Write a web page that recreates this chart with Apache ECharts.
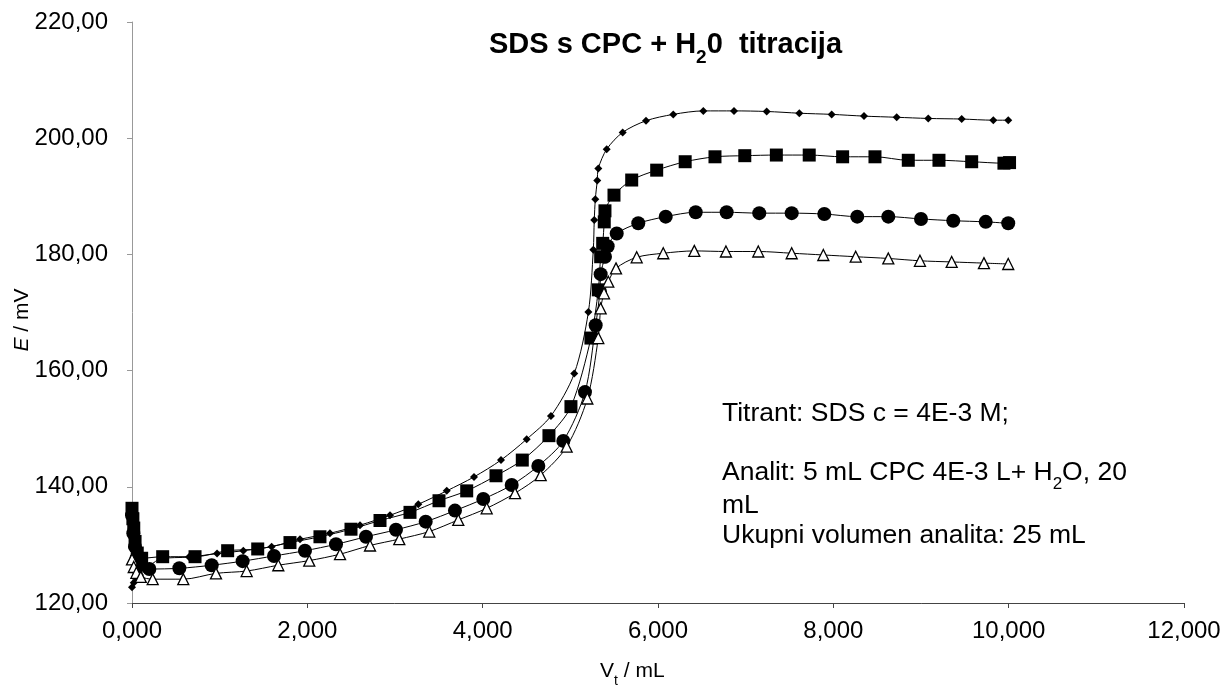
<!DOCTYPE html>
<html>
<head>
<meta charset="utf-8">
<script src="https://cdn.jsdelivr.net/npm/echarts@6/dist/echarts.min.js"></script>
<style>html,body{margin:0;padding:0;background:#fff;}#c{width:1226px;height:691px;}</style>
</head>
<body>
<div id="c"></div>
<script>
// ---- data (V in mL, E in mV) ----
const xDiamond = [0, 0.02, 0.05, 0.09, 0.33, 0.65, 0.97, 1.27, 1.593, 1.916, 2.258, 2.601, 2.943, 3.266, 3.590, 3.901, 4.209, 4.502, 4.779, 5.045, 5.206, 5.262, 5.273, 5.285, 5.307, 5.319, 5.415, 5.597, 5.863, 6.174, 6.517, 6.867, 7.240, 7.612, 7.981, 8.350, 8.723, 9.083, 9.464, 9.825, 9.995];
const yDiamond = [122.7, 123.5, 124.3, 124.8, 127.6, 127.9, 128.5, 129.0, 129.7, 130.96, 132.0, 133.4, 135.1, 137.0, 139.3, 141.7, 144.6, 148.2, 152.2, 159.5, 170.1, 180.8, 185.9, 189.5, 192.7, 194.8, 198.1, 201.0, 203.0, 204.1, 204.7, 204.7, 204.6, 204.3, 204.1, 203.8, 203.6, 203.4, 203.3, 203.1, 203.1];

const xSquare = [0, 0.01, 0.02, 0.035, 0.06, 0.11, 0.350, 0.719, 1.091, 1.434, 1.802, 2.144, 2.498, 2.829, 3.171, 3.502, 3.818, 4.152, 4.452, 4.756, 5.007, 5.235, 5.319, 5.346, 5.369, 5.387, 5.395, 5.498, 5.70, 5.985, 6.31, 6.65, 6.99, 7.35, 7.725, 8.106, 8.475, 8.855, 9.205, 9.578, 9.946, 10.01];
const ySquare = [136.3, 134.5, 132.9, 130.6, 128.6, 127.7, 127.97, 127.97, 129.0, 129.3, 130.4, 131.4, 132.7, 134.2, 135.6, 137.6, 139.3, 141.9, 144.6, 148.8, 153.8, 165.6, 173.9, 179.6, 181.9, 185.6, 187.5, 190.2, 192.8, 194.5, 195.95, 196.8, 196.99, 197.1, 197.1, 196.8, 196.8, 196.2, 196.2, 195.95, 195.7, 195.8];

const xCircle = [0, 0.015, 0.034, 0.054, 0.091, 0.198, 0.540, 0.909, 1.262, 1.62, 1.973, 2.327, 2.669, 3.011, 3.350, 3.684, 4.007, 4.331, 4.635, 4.920, 5.167, 5.289, 5.338, 5.346, 5.395, 5.426, 5.529, 5.775, 6.088, 6.430, 6.783, 7.155, 7.525, 7.897, 8.273, 8.627, 9.0, 9.368, 9.738, 9.995];
const yCircle = [135.1, 132.0, 129.7, 127.7, 126.5, 125.85, 125.97, 126.5, 127.2, 128.1, 129.0, 130.1, 131.4, 132.6, 134.0, 135.9, 137.9, 140.3, 143.6, 147.9, 156.3, 167.8, 173.6, 176.6, 179.6, 181.4, 183.6, 185.35, 186.5, 187.25, 187.25, 187.1, 187.1, 186.95, 186.5, 186.5, 186.1, 185.8, 185.6, 185.35];

const xTriangle = [0, 0.02, 0.05, 0.1, 0.236, 0.585, 0.958, 1.308, 1.669, 2.022, 2.373, 2.715, 3.049, 3.391, 3.722, 4.046, 4.369, 4.662, 4.958, 5.194, 5.319, 5.346, 5.384, 5.433, 5.521, 5.757, 6.06, 6.414, 6.775, 7.144, 7.525, 7.886, 8.255, 8.627, 8.988, 9.35, 9.718, 9.995];
const yTriangle = [127.5, 126.2, 125.2, 124.5, 124.1, 124.1, 125.1, 125.5, 126.5, 127.3, 128.4, 129.9, 131.0, 132.3, 134.3, 136.3, 138.9, 142.0, 146.9, 155.2, 165.6, 170.7, 173.3, 175.3, 177.6, 179.5, 180.2, 180.6, 180.5, 180.5, 180.2, 179.9, 179.6, 179.3, 178.9, 178.7, 178.5, 178.35];

const xTicks = {min: 0, max: 12, step: 2};
const yTicks = {min: 120, max: 220, step: 20};

const pairs = (xs, ys) => xs.map((x, i) => [x, ys[i]]);
const FONT = 'Liberation Sans, Arial, sans-serif';

const chart = echarts.init(document.getElementById('c'), null, {renderer: 'canvas'});
const lineStyle = {color: '#000', width: 1};
const txt = (size, extra) => Object.assign({fontSize: size, fontFamily: FONT, fill: '#000'}, extra || {});
chart.setOption({
  animation: false,
  backgroundColor: '#fff',
  grid: {left: 132, right: 42, top: 22, bottom: 88, containLabel: false},
  xAxis: {
    type: 'value', min: xTicks.min, max: xTicks.max, interval: xTicks.step,
    axisLine: {show: true, onZero: false, lineStyle: {color: '#444', width: 1}},
    axisTick: {show: true, inside: false, length: 5, lineStyle: {color: '#444'}},
    splitLine: {show: false},
    axisLabel: {margin: 16, color: '#000', fontSize: 24, fontFamily: FONT,
      formatter: v => v.toFixed(3).replace('.', ',')}
  },
  yAxis: {
    type: 'value', min: yTicks.min, max: yTicks.max, interval: yTicks.step,
    axisLine: {show: true, onZero: false, lineStyle: {color: '#999', width: 1}},
    axisTick: {show: true, inside: false, length: 5, lineStyle: {color: '#999'}},
    splitLine: {show: false},
    axisLabel: {margin: 24, color: '#000', fontSize: 24, fontFamily: FONT,
      formatter: v => v.toFixed(2).replace('.', ',')}
  },
  series: [
    {type: 'line', data: pairs(xDiamond, yDiamond), smooth: 0.3, symbol: 'diamond', symbolSize: 8,
      lineStyle: lineStyle, itemStyle: {color: '#000'}, z: 2},
    {type: 'line', data: pairs(xSquare, ySquare), smooth: 0.3, symbol: 'rect', symbolSize: 13,
      lineStyle: lineStyle, itemStyle: {color: '#000'}, z: 3},
    {type: 'line', data: pairs(xCircle, yCircle), smooth: 0.3, symbol: 'circle', symbolSize: 14,
      lineStyle: lineStyle, itemStyle: {color: '#000'}, z: 4},
    {type: 'line', data: pairs(xTriangle, yTriangle), smooth: 0.3, symbol: 'triangle', symbolSize: 11,
      lineStyle: lineStyle, itemStyle: {color: '#fff', borderColor: '#000', borderWidth: 1.3}, z: 5}
  ],
  graphic: [
    {type: 'text', left: 489, top: 30, style: {
      text: '{b|SDS s CPC + H}{s|2}{b|0  titracija}', fontFamily: FONT,
      rich: {b: txt(29, {fontWeight: 'bold', verticalAlign: 'bottom', lineHeight: 34}),
             s: txt(19, {fontWeight: 'bold', verticalAlign: 'bottom', lineHeight: 34, padding: [0, 0, -8, 0]})}}},
    {type: 'text', left: 722, top: 400, style: txt(26.5, {text: 'Titrant: SDS c = 4E-3 M;'})},
    {type: 'text', left: 722, top: 459, style: {
      text: '{n|Analit: 5 mL CPC 4E-3 L+ H}{s|2}{n|O, 20}', fontFamily: FONT,
      rich: {n: txt(26.5, {verticalAlign: 'bottom', lineHeight: 30}),
             s: txt(17, {verticalAlign: 'bottom', lineHeight: 30, padding: [0, 0, -7, 0]})}}},
    {type: 'text', left: 722, top: 492, style: txt(26.5, {text: 'mL'})},
    {type: 'text', left: 722, top: 522, style: txt(26.5, {text: 'Ukupni volumen analita: 25 mL'})},
    {type: 'text', left: 600, top: 661, style: {
      text: '{n|V}{s|t}{n| / mL}', fontFamily: FONT,
      rich: {n: txt(21, {verticalAlign: 'bottom', lineHeight: 26}),
             s: txt(14, {verticalAlign: 'bottom', lineHeight: 26, padding: [0, 0, -6, 0]})}}},
    {type: 'text', x: 22, y: 320, rotation: Math.PI / 2, style: {
      text: '{i|E}{n| / mV}', fontFamily: FONT, align: 'center', verticalAlign: 'middle',
      rich: {i: txt(21, {fontStyle: 'italic'}), n: txt(21)}}}
  ]
});
</script>
</body>
</html>
